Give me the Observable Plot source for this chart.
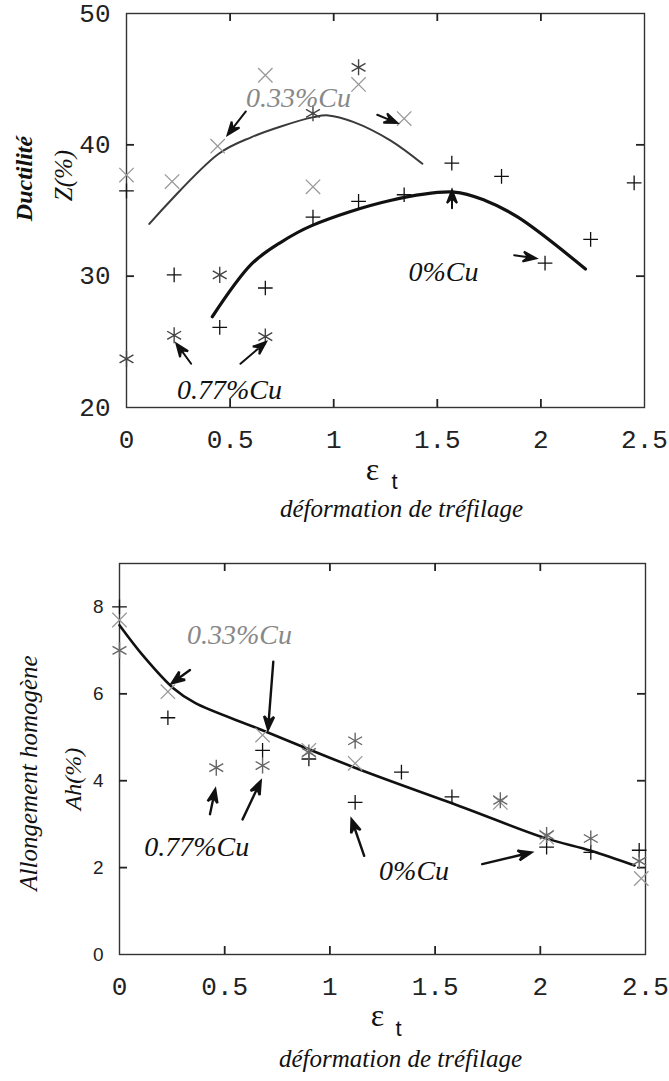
<!DOCTYPE html>
<html><head><meta charset="utf-8">
<script src="https://cdn.jsdelivr.net/npm/d3@7"></script>
<script src="https://cdn.jsdelivr.net/npm/@observablehq/plot@0.6"></script>
<style>body{margin:0;background:#fff} svg{display:block}</style>
</head><body><div id="c"></div>
<script>
// ---------- ticks ----------
const xTicks = [0, 0.5, 1, 1.5, 2, 2.5];
const zTicks = [20, 30, 40, 50];
const ahTicks = [0, 2, 4, 6, 8];

// ---------- top panel : Ductilité Z(%) ----------
const zX0 = [0, 0.23, 0.45, 0.67, 0.9, 1.12, 1.34, 1.57, 1.81, 2.02, 2.24, 2.45];
const zY0 = [36.5, 30.1, 26.1, 29.1, 34.5, 35.7, 36.2, 38.6, 37.6, 31.0, 32.8, 37.1];
const zX33 = [0, 0.22, 0.44, 0.67, 0.9, 1.12, 1.34];
const zY33 = [37.7, 37.2, 39.9, 45.3, 36.8, 44.6, 42.0];
const zX77 = [0, 0.23, 0.45, 0.67, 0.9, 1.12];
const zY77 = [23.7, 25.5, 30.1, 25.4, 42.4, 45.9];
const zCurve33X = [0.11, 0.445, 0.604, 0.745, 0.903, 0.974, 1.097, 1.273, 1.428];
const zCurve33Y = [33.98, 39.32, 40.59, 41.4, 42.11, 42.24, 41.73, 40.34, 38.56];
const zCurve0X = [0.414, 0.604, 0.745, 0.894, 1.273, 1.581, 1.731, 1.889, 2.215];
const zCurve0Y = [26.91, 30.93, 32.58, 33.85, 35.76, 36.4, 35.76, 34.49, 30.55];
const zLabels = ["0.33%Cu", "0%Cu", "0.77%Cu"];
const zLabelX = [0.83, 1.53, 0.497];
const zLabelY = [43.6, 30.3, 21.3];
const zArrX1 = [0.576, 1.21, 1.571, 1.871, 0.312, 0.55];
const zArrY1 = [42.54, 42.29, 35.17, 31.6, 23.33, 23.33];
const zArrX2 = [0.488, 1.307, 1.571, 1.977, 0.241, 0.673];
const zArrY2 = [40.76, 41.66, 36.56, 31.35, 24.86, 24.99];

// ---------- bottom panel : Allongement homogène Ah(%) ----------
const aX0 = [0, 0.23, 0.68, 0.9, 1.12, 1.34, 1.58, 2.03, 2.24, 2.47];
const aY0 = [8.0, 5.45, 4.7, 4.5, 3.5, 4.2, 3.63, 2.47, 2.35, 2.4];
const aX33 = [0, 0.23, 0.68, 0.9, 1.12, 1.81, 2.03, 2.48];
const aY33 = [7.7, 6.05, 5.05, 4.7, 4.4, 3.5, 2.7, 1.75];
const aX77 = [0, 0.46, 0.68, 0.9, 1.12, 1.81, 2.03, 2.24, 2.47];
const aY77 = [7.0, 4.3, 4.35, 4.65, 4.92, 3.55, 2.75, 2.67, 2.15];
const aCurveX = [0, 0.117, 0.256, 0.359, 0.67, 1.119, 1.637, 2.017, 2.241, 2.448];
const aCurveY = [7.58, 6.85, 6.13, 5.79, 5.18, 4.30, 3.38, 2.69, 2.39, 2.05];
const aLabels = ["0.33%Cu", "0.77%Cu", "0%Cu"];
const aLabelX = [0.57, 0.367, 1.40];
const aLabelY = [7.35, 2.47, 1.92];
const aArrX1 = [0.335, 0.731, 0.43, 0.585, 1.163, 1.724];
const aArrY1 = [6.55, 6.74, 3.23, 3.11, 2.27, 2.08];
const aArrX2 = [0.248, 0.706, 0.455, 0.671, 1.103, 1.957];
const aArrY2 = [6.24, 5.18, 3.80, 3.99, 3.11, 2.35];

// text
const xLabelEps = "ε";
const xLabelSub = "t";
const xLabelText = "déformation de tréfilage";
const zTitle = "Ductilité";
const zUnit = "Z(%)";
const aTitle = "Allongement homogène";
const aUnit = "Ah(%)";

const pts = (xs, ys) => xs.map((x, i) => ({x, y: ys[i]}));
const labels = (t, xs, ys) => t.map((s, i) => ({t: s, x: xs[i], y: ys[i], c: i}));

const serif = "Liberation Serif, Times New Roman, serif";
const mono = "Liberation Mono, Courier New, monospace";
const sans = "Liberation Sans, Arial, sans-serif";

// arrow annotations: screen direction derived from each plot's own scale extents
function arrowData(x1s, y1s, x2s, y2s, kx, ky) {
  return x1s.map((x1, i) => {
    const dxp = (x2s[i] - x1) * kx, dyp = -(y2s[i] - y1s[i]) * ky;
    return {x: x1, y: y1s[i], len: Math.hypot(dxp, dyp), ang: Math.atan2(dxp, -dyp) * 180 / Math.PI};
  });
}
const arrowShape = {
  draw(ctx, l) {
    const h = 13, w = 5;
    ctx.moveTo(0, 0); ctx.lineTo(0, -l + h * 0.6);
    ctx.moveTo(0, -l); ctx.lineTo(-w, -l + h); ctx.lineTo(0, -l + h * 0.62); ctx.lineTo(w, -l + h); ctx.closePath();
  }
};

// inward ticks on all four sides (length converted from pixels into data units) + tick labels
function commonAxes(yTicks, yFont, yFontSize, xDom, yDom, kx, ky) {
  const t = 8, s = {stroke: "#222", strokeWidth: 1.8};
  const xIn = xTicks.slice(1, -1), yIn = yTicks.slice(1, -1);
  const dyT = t / ky, dxT = t / kx;
  return [
    Plot.frame({stroke: "#333", strokeWidth: 1.4}),
    Plot.ruleX(xIn, {x: d => d, y1: yDom[0], y2: yDom[0] + dyT, ...s}),
    Plot.ruleX(xIn, {x: d => d, y1: yDom[1] - dyT, y2: yDom[1], ...s}),
    Plot.ruleY(yIn, {y: d => d, x1: xDom[0], x2: xDom[0] + dxT, ...s}),
    Plot.ruleY(yIn, {y: d => d, x1: xDom[1] - dxT, x2: xDom[1], ...s}),
    Plot.axisX({ticks: xTicks, anchor: "bottom", tickSize: 0, tickPadding: 22, label: null,
      fontFamily: mono, fontSize: 26, fill: "#222", tickFormat: d => String(d)}),
    Plot.axisY({ticks: yTicks, anchor: "left", tickSize: 0, tickPadding: 16, label: null,
      fontFamily: yFont, fontSize: yFontSize, fill: "#222", tickFormat: d => String(d)})
  ];
}

function xLabelMarks(epsDx, epsDy, subDx, subDy, txtDx, txtDy) {
  const c = {text: d => d, frameAnchor: "bottom", textAnchor: "middle", lineAnchor: "middle", fill: "#111"};
  return [
    Plot.text([xLabelEps], {...c, dx: epsDx, dy: epsDy, fontFamily: serif, fontSize: 32}),
    Plot.text([xLabelSub], {...c, dx: subDx, dy: subDy, fontFamily: sans, fontSize: 22}),
    Plot.text([xLabelText], {...c, dx: txtDx, dy: txtDy, fontFamily: serif, fontStyle: "italic", fontSize: 25})
  ];
}

function yLabelMarks(title, unit, tDx, tDy, tSize, tWeight, uDx, uDy, uSize) {
  const c = {text: d => d, frameAnchor: "left", rotate: -90, textAnchor: "middle", lineAnchor: "middle", fontFamily: serif, fontStyle: "italic", fill: "#111"};
  return [
    Plot.text([title], {...c, dx: tDx, dy: tDy, fontSize: tSize, fontWeight: tWeight}),
    Plot.text([unit], {...c, dx: uDx, dy: uDy, fontSize: uSize})
  ];
}

// top panel geometry
const T = {width: 669, height: 545, mL: 126, mR: 25, mT: 13, mB: 138, xDom: [0, 2.5], yDom: [20, 50]};
const Tkx = (T.width - T.mL - T.mR) / (T.xDom[1] - T.xDom[0]);
const Tky = (T.height - T.mT - T.mB) / (T.yDom[1] - T.yDom[0]);

const topPlot = Plot.plot({
  width: T.width, height: T.height,
  marginLeft: T.mL, marginRight: T.mR, marginTop: T.mT, marginBottom: T.mB,
  x: {domain: T.xDom},
  y: {domain: T.yDom},
  length: {type: "identity"},
  style: {background: "#fff", overflow: "visible"},
  marks: [
    ...commonAxes(zTicks, mono, 26, T.xDom, T.yDom, Tkx, Tky),
    Plot.line(pts(zCurve33X, zCurve33Y), {x: "x", y: "y", curve: "catmull-rom", stroke: "#3a3a3a", strokeWidth: 2}),
    Plot.line(pts(zCurve0X, zCurve0Y), {x: "x", y: "y", curve: "catmull-rom", stroke: "#111", strokeWidth: 3.2}),
    Plot.dot(pts(zX33, zY33), {x: "x", y: "y", symbol: "times", r: 6.6, stroke: "#999", strokeWidth: 1.3}),
    Plot.dot(pts(zX0, zY0), {x: "x", y: "y", symbol: "plus", r: 4.8, stroke: "#111", strokeWidth: 1.3}),
    Plot.dot(pts(zX77, zY77), {x: "x", y: "y", symbol: "asterisk", r: 7.6, stroke: "#444", strokeWidth: 1.4}),
    Plot.vector(arrowData(zArrX1, zArrY1, zArrX2, zArrY2, Tkx, Tky), {x: "x", y: "y", length: "len", rotate: "ang", anchor: "start",
      shape: arrowShape, stroke: "#111", fill: "#111", strokeWidth: 2, strokeLinejoin: "miter"}),
    Plot.text(labels(zLabels, zLabelX, zLabelY), {x: "x", y: "y", text: "t", fontFamily: serif, fontStyle: "italic", fontSize: 28,
      fill: d => d.c === 0 ? "#888" : "#111"}),
    ...xLabelMarks(-13, 62, 9, 74, 16, 101),
    ...yLabelMarks(zTitle, zUnit, -102, -32, 24, "bold", -63, -35, 25)
  ]
});

// bottom panel geometry
const B = {width: 669, height: 536, mL: 119, mR: 24, mT: 18, mB: 127, xDom: [0, 2.5], yDom: [0, 9]};
const Bkx = (B.width - B.mL - B.mR) / (B.xDom[1] - B.xDom[0]);
const Bky = (B.height - B.mT - B.mB) / (B.yDom[1] - B.yDom[0]);

const bottomPlot = Plot.plot({
  width: B.width, height: B.height,
  marginLeft: B.mL, marginRight: B.mR, marginTop: B.mT, marginBottom: B.mB,
  x: {domain: B.xDom},
  y: {domain: B.yDom},
  length: {type: "identity"},
  style: {background: "#fff", overflow: "visible"},
  marks: [
    ...commonAxes(ahTicks, sans, 19, B.xDom, B.yDom, Bkx, Bky),
    Plot.line(pts(aCurveX, aCurveY), {x: "x", y: "y", curve: "catmull-rom", stroke: "#111", strokeWidth: 2.6}),
    Plot.dot(pts(aX33, aY33), {x: "x", y: "y", symbol: "times", r: 6.6, stroke: "#999", strokeWidth: 1.3}),
    Plot.dot(pts(aX0, aY0), {x: "x", y: "y", symbol: "plus", r: 4.8, stroke: "#111", strokeWidth: 1.3}),
    Plot.dot(pts(aX77, aY77), {x: "x", y: "y", symbol: "asterisk", r: 7.6, stroke: "#666", strokeWidth: 1.4}),
    Plot.vector(arrowData(aArrX1, aArrY1, aArrX2, aArrY2, Bkx, Bky), {x: "x", y: "y", length: "len", rotate: "ang", anchor: "start",
      shape: arrowShape, stroke: "#111", fill: "#111", strokeWidth: 2.4, strokeLinejoin: "miter"}),
    Plot.text(labels(aLabels, aLabelX, aLabelY), {x: "x", y: "y", text: "t", fontFamily: serif, fontStyle: "italic", fontSize: 28,
      fill: d => d.c === 0 ? "#888" : "#111"}),
    ...xLabelMarks(-5, 61, 16, 74, 18, 104),
    ...yLabelMarks(aTitle, aUnit, -91, 14, 25, "normal", -46, 20, 24)
  ]
});

const c = document.getElementById("c");
c.appendChild(topPlot);
c.appendChild(bottomPlot);
</script>
</body></html>
